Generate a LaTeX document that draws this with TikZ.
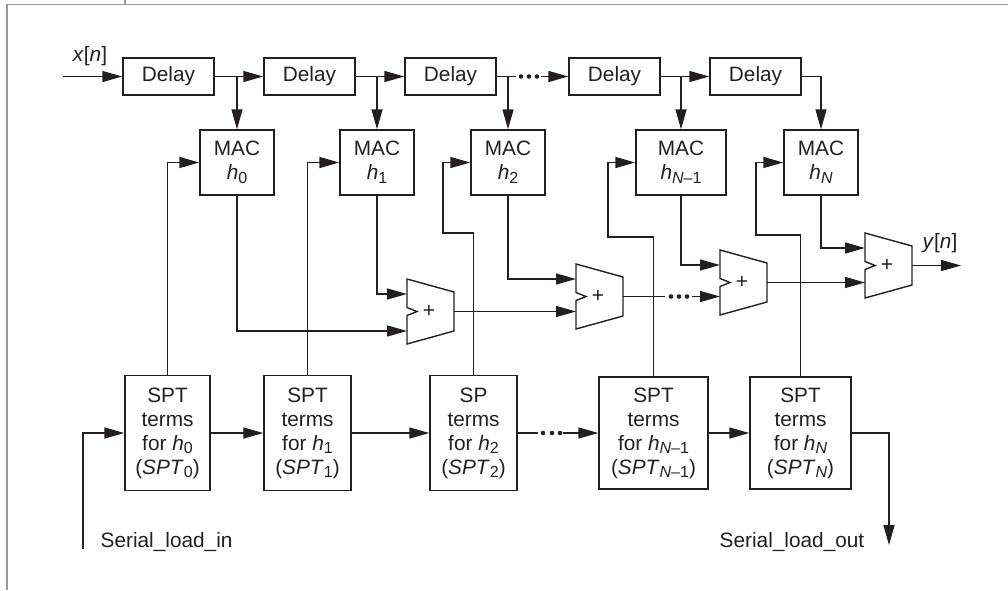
\documentclass[tikz,border=0pt]{standalone}
\usepackage{fontspec}
\setmainfont{Liberation Sans}
\usetikzlibrary{arrows.meta,calc}
\definecolor{ink}{HTML}{231F20}
\definecolor{framegray}{HTML}{9A9A9A}
\newcommand\sbs[1]{\raisebox{-0.35ex}{\fontsize{16}{16}\selectfont #1}}
\begin{document}
\begin{tikzpicture}[x=1pt,y=-1pt,color=ink,line width=1.4pt,
  every node/.style={text=ink,font=\fontsize{20.8}{24}\selectfont},
  box/.style={draw,inner sep=0pt,align=center},
  delaybox/.style={box,minimum width=91pt,minimum height=37pt},
  macbox/.style={box,minimum width=74pt,minimum height=65pt},
  sptbox/.style={box,minimum height=115pt},
  arr/.style={-{Triangle[length=20pt,width=11pt]}},
  pics/adder/.style={code={
    \draw (0,0) -- (47,13) -- (47,52) -- (0,65) -- (0,36.5) -- (10,32.5) -- (0,28.5) -- cycle;
    \node[font=\fontsize{21}{21}\selectfont,inner sep=0pt] (-plus) at (22,32.5) {+};
    \coordinate (-tl) at (0,0);
    \coordinate (-in1) at (0,15);
    \coordinate (-in2) at (0,52);
    \coordinate (-out) at (47,32.5);
  }}
]
\useasboundingbox (0,0) rectangle (1008,590);
% frame
\draw[framegray,line width=1.2pt] (1008,4.3) -- (7,4.3) -- (7,590);
\draw[framegray,line width=1.2pt] (125,0) -- (125,4.3);

% delays
\node[delaybox] (D1) at (168.5,76.5) {Delay};
\node[delaybox] (D2) at (309.5,76.5) {Delay};
\node[delaybox] (D3) at (450.5,76.5) {Delay};
\node[delaybox] (D4) at (614.5,76.5) {Delay};
\node[delaybox] (D5) at (755.5,76.5) {Delay};

% MACs
\node[macbox] (M0) at (237,162.5) {MAC\\\textit{h}\sbs{0}};
\node[macbox] (M1) at (377,162.5) {MAC\\\textit{h}\sbs{1}};
\node[macbox] (M2) at (508,162.5) {MAC\\\textit{h}\sbs{2}};
\node[macbox,minimum width=90pt] (MN1) at (681,162.5) {MAC\\\textit{h}\sbs{\textit{N}–1}};
\node[macbox] (MN) at (821,162.5) {MAC\\\textit{h}\sbs{\textit{N}}};

% SPT boxes
\node[sptbox,minimum width=85pt] (S0) at (167.5,433) {SPT\\terms\\for \textit{h}\sbs{0}\\(\textit{SPT}\sbs{0})};
\node[sptbox,minimum width=87pt] (S1) at (307.5,433) {SPT\\terms\\for \textit{h}\sbs{1}\\(\textit{SPT}\sbs{1})};
\node[sptbox,minimum width=87pt] (S2) at (473.5,433) {SP\\terms\\for \textit{h}\sbs{2}\\(\textit{SPT}\sbs{2})};
\node[sptbox,minimum width=109pt,minimum height=112pt] (SN1) at (653.5,433) {SPT\\terms\\for \textit{h}\sbs{\textit{N}–1}\\(\textit{SPT}\sbs{\textit{N}–1})};
\node[sptbox,minimum width=101pt,minimum height=112pt] (SN) at (800.5,433) {SPT\\terms\\for \textit{h}\sbs{\textit{N}}\\(\textit{SPT}\sbs{\textit{N}})};

% labels
\node[anchor=base] (xlab) at (90,61) {\textit{x}[\textit{n}]};
\node[anchor=base] (ylab) at (940,248) {\textit{y}[\textit{n}]};
\node[anchor=base west,inner sep=0pt] (lin) at (100,547) {Serial\_load\_in};
\node[anchor=base west,inner sep=0pt] (lout) at (719,547) {Serial\_load\_out};

% delay chain
\coordinate (xin) at (63,76.5);
\draw[arr] (xin) -- (D1.west);
\draw[arr] (D1.east) -- (D2.west);
\draw[arr] (D1.east -| M0.north) -- (M0.north);
\draw[arr] (D2.east) -- (D3.west);
\draw[arr] (D2.east -| M1.north) -- (M1.north);
\draw (D3.east) -- ++(19,0);
\fill (521,76.5) circle (2.3) (529,76.5) circle (2.3) (537,76.5) circle (2.3);
\draw[arr] ($(D4.west)+(-27,0)$) -- (D4.west);
\draw[arr] (D3.east -| M2.north) -- (M2.north);
\draw[arr] (D4.east) -- (D5.west);
\draw[arr] (D4.east -| MN1.north) -- (MN1.north);
\draw[arr] (D5.east) -| (MN.north);

% feedback from SPT to MAC
\draw[arr] (S0.north) |- (M0.west);
\draw[arr] (S1.north) |- (M1.west);
\draw[arr] (S2.north) |- (443,233) |- (M2.west);
\draw[arr] (SN1.north) |- (608,237) |- (MN1.west);
\draw[arr] (SN.north) |- (756,235) |- (MN.west);

% adders
\pic (A1) at (407,279) {adder};
\pic (A2) at (576,264) {adder};
\pic (A3) at (720,250) {adder};
\pic (A4) at (865,233) {adder};

\draw[arr] (M0.south) |- (A1-in2);
\draw[arr] (M1.south) |- (A1-in1);
\draw[arr] (M2.south) |- (A2-in1);
\draw[arr] (MN1.south) |- (A3-in1);
\draw[arr] (MN.south) |- (A4-in1);
\draw[arr] (A1-out) -- (A1-out -| A2-tl);
\draw (A2-out) -- ++(42,0);
\fill (671,296.5) circle (2.3) (679,296.5) circle (2.3) (687,296.5) circle (2.3);
\draw[arr] ($(A2-out -| A3-tl)+(-28,0)$) -- (A2-out -| A3-tl);
\draw[arr] (A3-out) -- (A3-out -| A4-tl);
\coordinate (yout) at (961,265.5);
\draw[arr] (A4-out) -- (yout);

% serial chain
\coordinate (sin) at (83,549);
\coordinate (sout) at (889,545);
\draw[arr] (sin) |- (S0.west);
\draw[arr] (S0.east) -- (S1.west);
\draw[arr] (S1.east) -- (S2.west);
\draw (S2.east) -- ++(20,0);
\fill (543,433) circle (2.3) (552,433) circle (2.3) (560,433) circle (2.3);
\draw[arr] ($(SN1.west)+(-35,0)$) -- (SN1.west);
\draw[arr] (SN1.east) -- (SN.west);
\draw[arr] (SN.east) -| (sout);
\end{tikzpicture}
\end{document}
